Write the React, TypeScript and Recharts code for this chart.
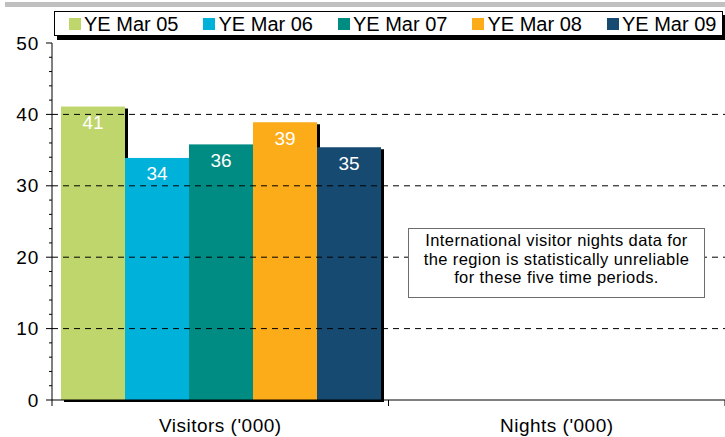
import { Bar, BarChart, LabelList, Legend, ReferenceLine, XAxis, YAxis } from "recharts";

const categories = ["Visitors ('000)", "Nights ('000)"];
const periods = ["YE Mar 05", "YE Mar 06", "YE Mar 07", "YE Mar 08", "YE Mar 09"];
const colors = ["#BFD66D", "#00B1D9", "#008C82", "#FDAC19", "#174A71"];

// visitor counts per period, nights left empty (statistically unreliable)
const visitors = [41.1, 33.9, 35.8, 38.9, 35.4];
const nights: Array<number | null> = [null, null, null, null, null];

const yTicks = [0, 2, 4, 6, 8, 10, 12, 14, 16, 18, 20, 22, 24, 26, 28, 30, 32, 34, 36, 38, 40, 42, 44, 46, 48, 50];
const gridValues = [10, 20, 30, 40];

const note = [
  "International visitor nights data for",
  "the region is statistically unreliable",
  "for these five time periods.",
];

const FONT = "'Liberation Sans', Arial, sans-serif";

const data = categories.map((name, ci) => {
  const row: Record<string, string | number | null> = { name };
  periods.forEach((p, i) => {
    row[p] = ci === 0 ? visitors[i] : nights[i];
  });
  return row;
});

const ShadowBar = (props: any) => {
  const { x, y, width, height, fill } = props;
  if (!height || height <= 0) return <g />;
  return (
    <g>
      <rect x={x + 3} y={y + 2} width={width} height={height} fill="#000" />
      <rect x={x} y={y} width={width} height={height} fill={fill} />
    </g>
  );
};

const YTick = (props: any) => {
  const { x, y, payload } = props;
  const major = payload.value % 10 === 0;
  return (
    <g>
      <line x1={x - (major ? 6 : 3)} x2={x} y1={y} y2={y} stroke="#000" />
      {major && (
        <text x={x - 13} y={y} textAnchor="end" dominantBaseline="central" fontSize={19} letterSpacing={0.8} fill="#000" fontFamily={FONT}>
          {payload.value}
        </text>
      )}
    </g>
  );
};

const XTick = (props: any) => {
  const { x, y, payload, index } = props;
  const half = payload.offset ?? 168;
  return (
    <g>
      <line x1={x - half} x2={x - half} y1={y} y2={y + 6} stroke="#000" />
      {index === categories.length - 1 && (
        <line x1={x + half} x2={x + half} y1={y} y2={y + 6} stroke="#000" />
      )}
      <text x={x} y={y + 32} textAnchor="middle" fontSize={19} letterSpacing={0.5} fill="#000" fontFamily={FONT}>
        {payload.value}
      </text>
    </g>
  );
};

const LegendBox = () => (
  <div
    style={{
      boxSizing: "border-box",
      height: 25,
      border: "1px solid #000",
      background: "#fff",
      boxShadow: "3px 4px 0 #000",
      display: "flex",
      alignItems: "center",
      paddingLeft: 14,
      gap: 25,
      fontFamily: FONT,
      fontSize: 20,
      color: "#000",
    }}
  >
    {periods.map((p, i) => (
      <div key={p} style={{ display: "flex", alignItems: "center" }}>
        <span style={{ width: 12, height: 12, background: colors[i], marginRight: 3, display: "inline-block" }} />
        <span style={{ lineHeight: "22px" }}>{p}</span>
      </div>
    ))}
  </div>
);

export default function App() {
  return (
    <div style={{ position: "fixed", left: 0, top: 0, width: 725, height: 437, background: "#fff", overflow: "hidden" }}>
      <div style={{ position: "absolute", left: 5, top: 2, width: 720, height: 5, background: "#c0c0c0" }} />
      <BarChart
        width={725}
        height={437}
        data={data}
        margin={{ top: 43, right: 0, bottom: 0, left: 0 }}
        barCategoryGap={9}
        barGap={0}
      >
        {gridValues.map((v) => (
          <ReferenceLine key={v} y={v} stroke="#000" strokeDasharray="6 5" />
        ))}
        <XAxis
          dataKey="name"
          height={37}
          axisLine={{ stroke: "#000" }}
          tickLine={false}
          tickSize={0}
          tickMargin={0}
          tick={<XTick />}
          interval={0}
        />
        <YAxis
          width={52}
          domain={[0, 50]}
          ticks={yTicks}
          interval={0}
          axisLine={{ stroke: "#000" }}
          tickLine={false}
          tickSize={0}
          tickMargin={0}
          tick={<YTick />}
        />
        <Legend
          verticalAlign="middle"
          align="center"
          wrapperStyle={{ top: 11, left: 54, width: 669 }}
          content={<LegendBox />}
        />
        {periods.map((p, i) => (
          <Bar key={p} dataKey={p} fill={colors[i]} shape={<ShadowBar />} isAnimationActive={false}>
            <LabelList
              dataKey={p}
              position="insideTop"
              offset={9}
              fill="#fff"
              fontSize={19}
              fontFamily={FONT}
              formatter={(v: any) => (v == null ? "" : Math.round(Number(v)))}
            />
          </Bar>
        ))}
      </BarChart>
      <div
        style={{
          position: "absolute",
          left: 408,
          top: 228,
          width: 297,
          height: 70,
          boxSizing: "border-box",
          border: "1px solid #6d6d6d",
          background: "#fff",
          fontFamily: FONT,
          fontSize: 16.5,
          letterSpacing: 0.4,
          lineHeight: "18.5px",
          textAlign: "center",
          paddingTop: 2,
          color: "#000",
          whiteSpace: "nowrap",
        }}
      >
        {note.map((line) => (
          <div key={line}>{line}</div>
        ))}
      </div>
    </div>
  );
}
